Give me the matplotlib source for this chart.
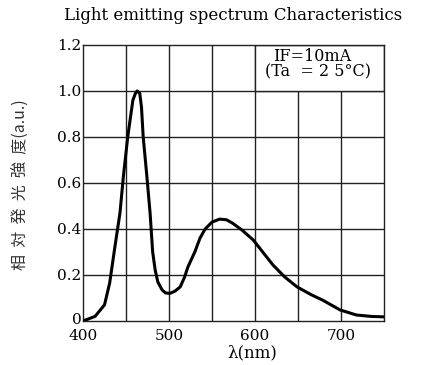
import matplotlib
matplotlib.use("Agg")
import matplotlib.pyplot as plt
import matplotlib.transforms as mtransforms
from matplotlib.patches import Rectangle

wavelength = [400, 414, 425, 431, 437, 443, 447, 452, 458, 461, 463, 466, 468, 470, 474, 478,
              481, 484, 487, 492, 496, 501, 507, 513, 518, 522, 530, 536, 542, 550, 559, 567,
              574, 585, 598, 610, 621, 635, 649, 665, 679, 699, 718, 735, 750]
intensity = [0.0, 0.02, 0.07, 0.165, 0.32, 0.47, 0.63, 0.8, 0.96, 0.99, 1.0, 0.99, 0.93, 0.8,
             0.64, 0.47, 0.3, 0.22, 0.17, 0.135, 0.122, 0.12, 0.13, 0.148, 0.19, 0.235, 0.3,
             0.36, 0.40, 0.43, 0.443, 0.44, 0.425, 0.395, 0.352, 0.295, 0.243, 0.19, 0.148,
             0.115, 0.09, 0.048, 0.026, 0.02, 0.018]
xticks = [400, 500, 600, 700]
xgrid = [450, 500, 550, 600, 650, 700]
yticks = [0, 0.2, 0.4, 0.6, 0.8, 1.0, 1.2]
ytick_labels = ["0", "0.2", "0.4", "0.6", "0.8", "1.0", "1.2"]

serif = ["DejaVu Serif"]

fig = plt.figure(figsize=(4.3, 3.65), dpi=100)
ax = fig.add_axes([83/430, 44/365, 301/430, 276/365])
ax.set_xlim(400, 750)
ax.set_ylim(0, 1.2)

for x in xgrid:
    ax.axvline(x, color="#222222", lw=1.0, zorder=0.5)
for y in yticks[1:-1]:
    ax.axhline(y, color="#222222", lw=1.0, zorder=0.5)

ax.add_patch(Rectangle((600, 1.0), 150, 0.2, facecolor="white", edgecolor="#222222",
                       lw=1.0, zorder=1))

ax.plot(wavelength, intensity, color="black", lw=2.2, zorder=3)

ax.set_xticks(xticks)
ax.set_xticklabels([str(v) for v in xticks], family=serif, fontsize=11)
ax.set_yticks(yticks)
ax.set_yticklabels(ytick_labels, family=serif, fontsize=11)
ax.tick_params(axis="x", length=0, pad=6)
ax.tick_params(axis="y", length=0, pad=1)
for s in ax.spines.values():
    s.set_linewidth(1.0)
    s.set_color("#222222")

# lift the "0" label a little so it does not collide with "400"
zero_lbl = ax.get_yticklabels()[0]
zero_lbl.set_transform(zero_lbl.get_transform() +
                       mtransforms.ScaledTranslation(0, 3/100, fig.dpi_scale_trans))

ax.text(666, 1.152, "IF=10mA", family=serif, fontsize=11.5, ha="center", va="center", zorder=4)
ax.text(673, 1.085, "(Ta  = 2 5°C)", family=serif, fontsize=11.5, ha="center", va="center", zorder=4)

fig.text(233/430, 1 - 16/365, "Light emitting spectrum Characteristics", family=serif,
         fontsize=12, ha="center", va="center")
fig.text(252/430, 1 - 353/365, "λ(nm)", family=serif, fontsize=12, ha="center", va="center")
fig.text(21/430, 1 - 185/365, "相  対  発  光  強  度(a.u.)", family=["Noto Sans CJK JP", "DejaVu Serif"],
         fontsize=11.5, rotation=90, ha="center", va="center", color="#333333")

fig.savefig("out.png", dpi=100, facecolor="white")
